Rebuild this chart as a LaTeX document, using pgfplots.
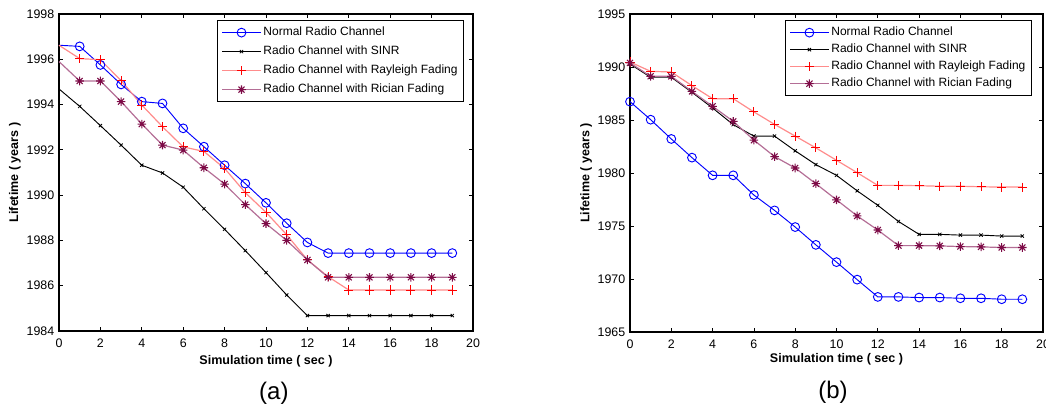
\documentclass[border=0pt]{standalone}
\usepackage{fontspec}
\setmainfont{Liberation Sans}
\usepackage{pgfplots}
\usepackage{pgfplotstable}
\pgfplotsset{compat=1.18}

\definecolor{mblue}{RGB}{0,0,255}
\definecolor{raymark}{RGB}{255,0,0}
\definecolor{rayline}{RGB}{255,140,140}
\definecolor{ricmark}{RGB}{125,10,70}
\definecolor{ricline}{RGB}{180,110,150}

\pgfdeclareplotmark{mstar}{%
  \pgfpathmoveto{\pgfpoint{-\pgfplotmarksize}{0pt}}\pgfpathlineto{\pgfpoint{\pgfplotmarksize}{0pt}}%
  \pgfpathmoveto{\pgfpoint{0pt}{-\pgfplotmarksize}}\pgfpathlineto{\pgfpoint{0pt}{\pgfplotmarksize}}%
  \pgfpathmoveto{\pgfpoint{-.707\pgfplotmarksize}{-.707\pgfplotmarksize}}\pgfpathlineto{\pgfpoint{.707\pgfplotmarksize}{.707\pgfplotmarksize}}%
  \pgfpathmoveto{\pgfpoint{-.707\pgfplotmarksize}{.707\pgfplotmarksize}}\pgfpathlineto{\pgfpoint{.707\pgfplotmarksize}{-.707\pgfplotmarksize}}%
  \pgfusepathqstroke}

\pgfplotstableread{
x Normal SINR Rayleigh Rician
0 1996.62 1994.69 1996.62 1995.90
1 1996.57 1993.92 1996.03 1995.04
2 1995.75 1993.07 1995.98 1995.04
3 1994.89 1992.21 1995.06 1994.13
4 1994.13 1991.32 1993.98 1993.14
5 1994.05 1990.98 1993.02 1992.21
6 1992.95 1990.35 1992.13 1991.99
7 1992.14 1989.40 1991.93 1991.21
8 1991.32 1988.49 1991.18 1990.49
9 1990.51 1987.55 1990.11 1989.58
10 1989.66 1986.58 1989.24 1988.74
11 1988.76 1985.59 1988.25 1988.00
12 1987.91 1984.68 1987.14 1987.14
13 1987.44 1984.68 1986.40 1986.37
14 1987.44 1984.68 1985.81 1986.37
15 1987.44 1984.68 1985.81 1986.37
16 1987.44 1984.68 1985.81 1986.37
17 1987.44 1984.68 1985.81 1986.37
18 1987.44 1984.68 1985.81 1986.37
19 1987.44 1984.68 1985.81 1986.37
}\dataA

\pgfplotstableread{
x Normal SINR Rayleigh Rician
0 1986.73 1990.28 1990.47 1990.38
1 1985.03 1989.03 1989.59 1989.12
2 1983.21 1989.03 1989.53 1989.12
3 1981.45 1987.61 1988.24 1987.70
4 1979.78 1986.13 1987.01 1986.29
5 1979.78 1984.56 1987.01 1984.87
6 1977.92 1983.48 1985.76 1983.10
7 1976.47 1983.48 1984.59 1981.55
8 1974.90 1982.09 1983.48 1980.47
9 1973.22 1980.79 1982.37 1978.99
10 1971.59 1979.78 1981.20 1977.47
11 1969.94 1978.32 1980.03 1975.95
12 1968.31 1976.95 1978.83 1974.62
13 1968.31 1975.43 1978.83 1973.15
14 1968.25 1974.21 1978.80 1973.15
15 1968.25 1974.21 1978.75 1973.12
16 1968.18 1974.14 1978.75 1973.06
17 1968.18 1974.14 1978.70 1973.03
18 1968.09 1974.05 1978.67 1972.97
19 1968.09 1974.05 1978.67 1972.97
}\dataB

\pgfplotsset{
  matstyle/.style={
    scale only axis,
    anchor=south west,
    clip=false,
    xmin=0, xmax=20,
    xtick={0,2,...,20},
    tick align=inside,
    major tick length=3pt,
    axis line style={line width=1.1pt},
    every tick/.style={black, line width=0.6pt},
    tick label style={font=\fontsize{9.3}{10}\selectfont},
    xticklabel style={yshift=-2.5pt},
    /pgf/number format/assume math mode=true,
    /pgf/number format/1000 sep={},
    label style={font=\bfseries\fontsize{9.4}{10}\selectfont},
    ylabel={Lifetime ( years )},
    xlabel={Simulation time ( sec )},
    legend cell align=left,
    legend style={draw=black, line width=0.9pt, fill=white,
      font=\fontsize{9}{10}\selectfont,
      inner xsep=3pt, inner ysep=3pt,
      nodes={text height=7pt, text depth=2pt, inner sep=1.5pt}},
    legend image code/.code={\draw[mark repeat=2,mark phase=2,##1] plot coordinates {(0pt,0pt) (14.5pt,0pt) (29pt,0pt)};},
  },
  pnormal/.style={color=mblue, line width=0.7pt, mark=o, mark size=3.3pt, mark options={line width=0.7pt, solid}},
  psinr/.style={color=black, line width=0.7pt, mark=x, mark size=1.7pt, mark options={line width=0.6pt}},
  pray/.style={color=rayline, line width=0.9pt, mark=+, mark size=3.4pt, mark options={draw=raymark, line width=0.7pt}},
  pric/.style={color=ricline, line width=0.9pt, mark=mstar, mark size=3.2pt, mark options={draw=ricmark, line width=0.8pt}},
}

\begin{document}
\begin{tikzpicture}
\begin{axis}[matstyle,
  at={(44.25pt,58.5pt)}, width=310.5pt, height=237.75pt,
  ymin=1984, ymax=1998, ytick={1984,1986,...,1998},
  xlabel style={at={(axis description cs:0.5,-0.0946)}, anchor=center},
  ylabel style={at={(axis description cs:-0.1063,0.5)}, anchor=center},
  legend style={at={(axis description cs:0.3816,0.981)}, anchor=north west, row sep=2.25pt},
]
\addplot[pnormal, mark phase=2] table[x=x, y=Normal] {\dataA};
\addlegendentry{Normal Radio Channel}
\addplot[psinr, mark phase=2] table[x=x, y=SINR] {\dataA};
\addlegendentry{Radio Channel with SINR}
\addplot[pray, mark phase=2] table[x=x, y=Rayleigh] {\dataA};
\addlegendentry{Radio Channel with Rayleigh Fading}
\addplot[pric, mark phase=2] table[x=x, y=Rician] {\dataA};
\addlegendentry{Radio Channel with Rician Fading}
\node at (axis description cs:0.519,-0.196) {\fontsize{18}{20}\selectfont (a)};
\end{axis}

\begin{axis}[matstyle,
  at={(472.5pt,57.75pt)}, width=309.75pt, height=238.5pt,
  ymin=1965, ymax=1995, ytick={1965,1970,...,1995},
  xlabel style={at={(axis description cs:0.5,-0.085)}, anchor=center},
  ylabel style={at={(axis description cs:-0.1065,0.5)}, anchor=center},
  legend style={at={(axis description cs:0.375,0.981)}, anchor=north west, row sep=0.75pt},
]
\addplot[pnormal] table[x=x, y=Normal] {\dataB};
\addlegendentry{Normal Radio Channel}
\addplot[psinr] table[x=x, y=SINR] {\dataB};
\addlegendentry{Radio Channel with SINR}
\addplot[pray] table[x=x, y=Rayleigh] {\dataB};
\addlegendentry{Radio Channel with Rayleigh Fading}
\addplot[pric] table[x=x, y=Rician] {\dataB};
\addlegendentry{Radio Channel with Rician Fading}
\node at (axis description cs:0.4915,-0.189) {\fontsize{18}{20}\selectfont (b)};
\end{axis}
\pgfresetboundingbox
\path[use as bounding box] (0,0) rectangle (784.5pt,306.75pt);
\end{tikzpicture}
\end{document}
